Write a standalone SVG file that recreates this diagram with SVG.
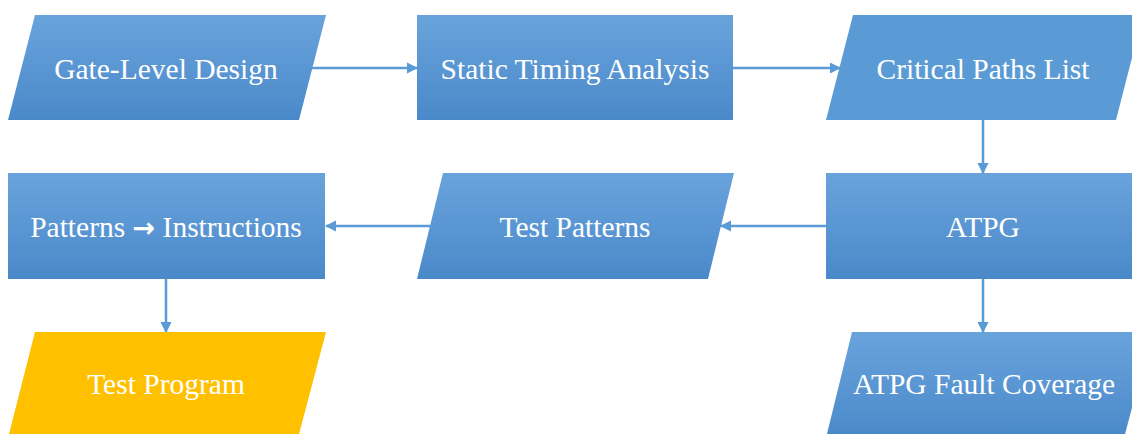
<svg xmlns="http://www.w3.org/2000/svg" width="1132" height="434" viewBox="0 0 1132 434">
  <style>
    .lbl { font-family: "Liberation Serif", "Times New Roman", serif; font-size: 29.5px; fill: #ffffff; text-anchor: middle; }
    .blue { fill: url(#blueGrad); }
    .flat { fill: #5b9bd5; }
    .gold { fill: #ffc000; }
    .edge { stroke: #5b9bd5; stroke-width: 2.5; fill: none; marker-end: url(#head); }
  </style>
  <defs>
    <linearGradient id="blueGrad" x1="0" y1="0" x2="0" y2="1">
      <stop offset="0" stop-color="#69a3dc"/>
      <stop offset="1" stop-color="#4a89c9"/>
    </linearGradient>
    <marker id="head" viewBox="0 0 10 10" refX="9" refY="5" markerWidth="4.5" markerHeight="4.5" orient="auto" markerUnits="strokeWidth">
      <path d="M0,0 L10,5 L0,10 z" fill="#5b9bd5"/>
    </marker>
  </defs>

  <rect width="1132" height="434" fill="#ffffff"/>

  <!-- connectors -->
  <g id="connectors">
    <line class="edge" x1="312" y1="68" x2="417" y2="68"/>
    <line class="edge" x1="733" y1="68" x2="840" y2="68"/>
    <line class="edge" x1="983" y1="120" x2="983" y2="173"/>
    <line class="edge" x1="826" y1="226" x2="721" y2="226"/>
    <line class="edge" x1="430" y1="226" x2="326" y2="226"/>
    <line class="edge" x1="166" y1="279" x2="166" y2="332"/>
    <line class="edge" x1="983" y1="279" x2="983" y2="332"/>
  </g>

  <!-- row 1 -->
  <g id="gate-level-design">
    <polygon class="blue" points="35,15 326,15 299,120 8,120"/>
    <text class="lbl" x="166" y="79">Gate-Level Design</text>
  </g>
  <g id="static-timing-analysis">
    <rect class="blue" x="417" y="15" width="316" height="105"/>
    <text class="lbl" x="575" y="79">Static Timing Analysis</text>
  </g>
  <g id="critical-paths-list">
    <polygon class="flat" points="853,15 1143,15 1116,120 826,120"/>
    <text class="lbl" x="983" y="79">Critical Paths List</text>
  </g>

  <!-- row 2 -->
  <g id="atpg">
    <rect class="blue" x="826" y="173" width="316" height="106"/>
    <text class="lbl" x="983" y="237">ATPG</text>
  </g>
  <g id="test-patterns">
    <polygon class="blue" points="443,173 734,173 708,279 417,279"/>
    <text class="lbl" x="575" y="237">Test Patterns</text>
  </g>
  <g id="patterns-to-instructions">
    <rect class="blue" x="8" y="173" width="317" height="106"/>
    <text class="lbl" x="166" y="237">Patterns <tspan font-family="DejaVu Sans, sans-serif" font-weight="bold" font-size="27">→</tspan> Instructions</text>
  </g>

  <!-- row 3 -->
  <g id="test-program">
    <polygon class="gold" points="35,332 326,332 298,438 8,438"/>
    <text class="lbl" x="166" y="394">Test Program</text>
  </g>
  <g id="atpg-fault-coverage">
    <polygon class="blue" points="852,332 1152,332 1124,438 826,438"/>
    <text class="lbl" x="984" y="394">ATPG Fault Coverage</text>
  </g>
</svg>
